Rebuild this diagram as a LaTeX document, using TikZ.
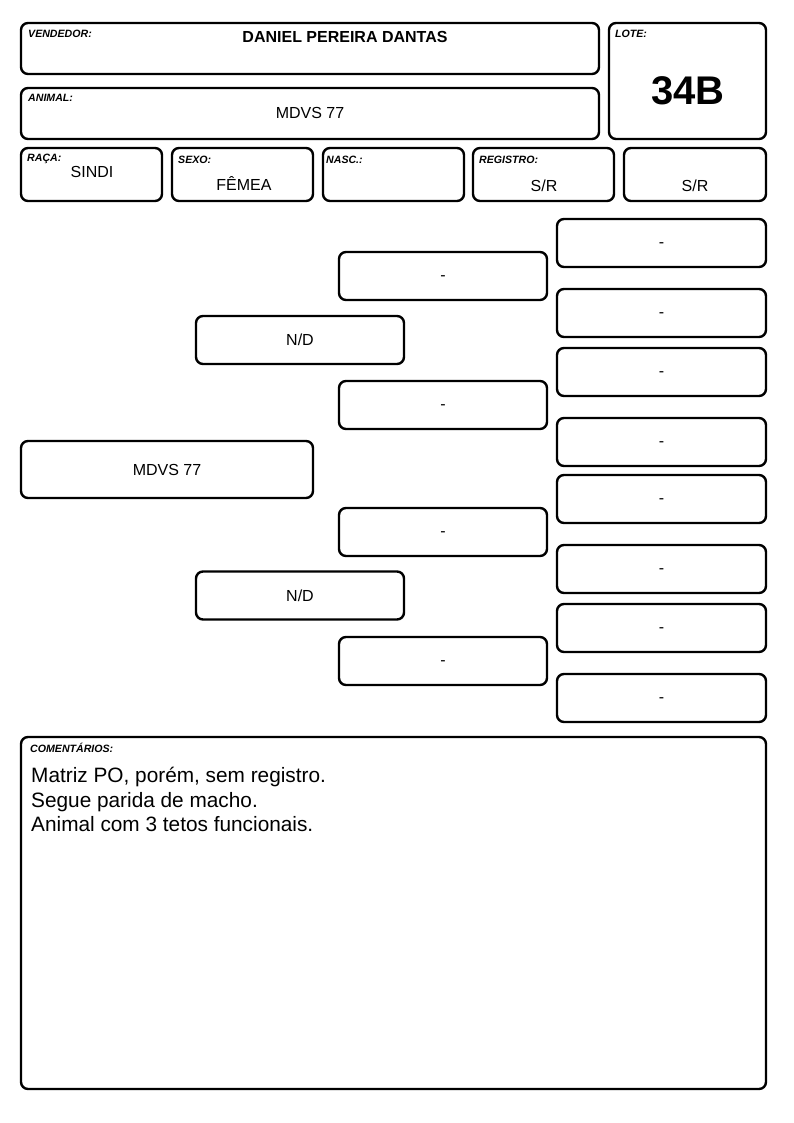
\documentclass[tikz,border=0pt]{standalone}
\usepackage{fontspec}
\setmainfont{Liberation Sans}
\newcommand{\dsh}{\raisebox{-4.2pt}[0pt][0pt]{-}}
\begin{document}
\begin{tikzpicture}[x=1pt,y=-1pt,
  box/.style={draw=black,line width=2.4pt,rounded corners=7pt},
  lbl/.style={anchor=north west,inner sep=0pt,font=\fontsize{10.6}{12}\selectfont\bfseries\itshape},
  val/.style={inner sep=0pt,font=\fontsize{16}{19}\selectfont},
  pbox/.style={box,minimum width=208pt,minimum height=48pt,inner sep=0pt,font=\fontsize{16}{19}\selectfont}]
\useasboundingbox (0,0) rectangle (794,1123);
% header
\draw[box] (21,23) rectangle (599,74);
\node[lbl] (lv) at (28,30) {VENDEDOR:};
\node[val,font=\fontsize{16}{19}\selectfont\bfseries] (vv) at (345,37) {DANIEL PEREIRA DANTAS};
\draw[box] (21,88) rectangle (599,139);
\node[lbl] (la) at (28,94) {ANIMAL:};
\node[val] (va) at (310,113) {MDVS 77};
\draw[box] (609,23) rectangle (766,139);
\node[lbl] (ll) at (615,30) {LOTE:};
\node[inner sep=0pt,font=\fontsize{40}{44}\selectfont\bfseries] (vl) at (688,91) {34B};
% row 2
\draw[box] (21,148) rectangle (162,201);
\node[lbl] (lr) at (27,154) {RAÇA:};
\node[val] (vr) at (92,172) {SINDI};
\draw[box] (172,148) rectangle (313,201);
\node[lbl] (ls) at (178,156) {SEXO:};
\node[val] (vs) at (244,184) {FÊMEA};
\draw[box] (323,148) rectangle (464,201);
\node[lbl] (ln) at (326,156) {NASC.:};
\draw[box] (473,148) rectangle (614,201);
\node[lbl] (lg) at (479,156) {REGISTRO:};
\node[val] (vg) at (544,186) {S/R};
\draw[box] (624,148) rectangle (766,201);
\node[val] (vg2) at (695,186) {S/R};
% pedigree
\node[box,minimum width=292pt,minimum height=57pt,inner sep=0pt,font=\fontsize{16}{19}\selectfont] (main) at (167,469.5) {MDVS 77};
\node[pbox] (p1) at (300,340) {N/D};
\node[pbox] (p2) at (300,595.5) {N/D};
\node[pbox] (g1) at (443,276) {\dsh};
\node[pbox] (g2) at (443,405) {\dsh};
\node[pbox] (g3) at (443,532) {\dsh};
\node[pbox] (g4) at (443,661) {\dsh};
\node[pbox,minimum width=209pt] (b1) at (661.5,243) {\dsh};
\node[pbox,minimum width=209pt] (b2) at (661.5,313) {\dsh};
\node[pbox,minimum width=209pt] (b3) at (661.5,372) {\dsh};
\node[pbox,minimum width=209pt] (b4) at (661.5,442) {\dsh};
\node[pbox,minimum width=209pt] (b5) at (661.5,499) {\dsh};
\node[pbox,minimum width=209pt] (b6) at (661.5,569) {\dsh};
\node[pbox,minimum width=209pt] (b7) at (661.5,628) {\dsh};
\node[pbox,minimum width=209pt] (b8) at (661.5,698) {\dsh};
% comments
\draw[box] (21,737) rectangle (766,1089);
\node[lbl] (lc) at (30,743) {COMENTÁRIOS:};
\node[anchor=north west,inner sep=0pt,align=left,font=\fontsize{20.8}{24.5}\selectfont] (vc) at (31,767) {Matriz PO, porém, sem registro.\\Segue parida de macho.\\Animal com 3 tetos funcionais.};
\end{tikzpicture}
\end{document}
